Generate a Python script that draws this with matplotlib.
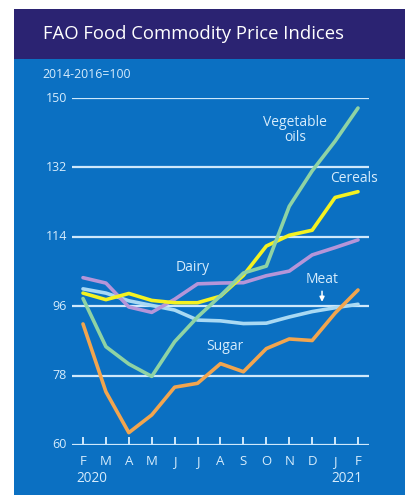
import matplotlib
matplotlib.use("Agg")
import matplotlib.pyplot as plt
from matplotlib.patches import Rectangle

months = ["F", "M", "A", "M", "J", "J", "A", "S", "O", "N", "D", "J", "F"]
years = ["2020", "2021"]
yticks = [60, 78, 96, 114, 132, 150]

cereals = [99.4, 97.7, 99.3, 97.5, 96.9, 96.9, 98.6, 104.0, 111.6, 114.4, 115.7, 124.2, 125.7]
veg_oils = [98.0, 85.5, 81.0, 77.8, 86.8, 93.2, 98.7, 104.6, 106.4, 121.9, 131.1, 138.8, 147.4]
dairy = [103.4, 102.0, 95.8, 94.4, 97.8, 101.8, 102.0, 102.1, 103.9, 105.1, 109.3, 111.2, 113.2]
meat = [100.5, 99.4, 97.4, 96.2, 95.0, 92.4, 92.2, 91.5, 91.6, 93.2, 94.6, 95.6, 96.5]
sugar = [91.4, 73.8, 63.2, 67.8, 75.0, 76.0, 81.1, 79.0, 85.0, 87.5, 87.1, 94.2, 100.2]

W, H = 406, 495
fig = plt.figure(figsize=(W / 100, H / 100), dpi=100, facecolor="white")
plt.rcParams['font.family'] = ['Open Sans', 'DejaVu Sans']

def fx(px):
    return px / W

def fy(py):
    return 1 - py / H

navy = "#2b2372"
blue = "#0b70c2"
grid_c = "#cfe8fb"
text_c = "#d6ecfc"

bg = fig.add_axes([0, 0, 1, 1], zorder=-10)
bg.set_xlim(0, W)
bg.set_ylim(H, 0)
bg.axis("off")
bg.add_patch(Rectangle((14, 59), W - 14, H - 59, facecolor=blue, edgecolor="none"))
bg.add_patch(Rectangle((14, 9), W - 14, 50, facecolor=navy, edgecolor="none"))

fig.text(fx(43), fy(34), "FAO Food Commodity Price Indices", color="white",
         fontsize=13.3, va="center", ha="left")
fig.text(fx(42), fy(75), "2014-2016=100", color=text_c, fontsize=8.8, va="center", ha="left")

ax = fig.add_axes([fx(72), fy(445), fx(369) - fx(72), fy(98) - fy(445)])
ax.set_facecolor("none")
ax.set_xlim(-0.48, 12.48)
ax.set_ylim(60, 150)
for s in ax.spines.values():
    s.set_visible(False)
ax.set_xticks([])
ax.set_yticks([])

x = list(range(len(months)))
for v in yticks:
    ax.axhline(v, color=grid_c, lw=1.6, zorder=1)
for v in yticks:
    ax.text(-0.7, v, str(v), color=text_c, fontsize=9, ha="right", va="center")
# upward ticks on baseline
for i in x:
    ax.plot([i, i], [60, 62.0], color=grid_c, lw=1.4, zorder=1, solid_capstyle="butt")
for i, m in enumerate(months):
    ax.text(i, 55.8, m, color=text_c, fontsize=9.5, ha="center", va="center")
ax.text(-0.28, 51.3, years[0], color=text_c, fontsize=9.8, ha="left", va="center")
ax.text(12.18, 51.3, years[1], color=text_c, fontsize=9.8, ha="right", va="center")

lw = 2.6
ax.plot(x, meat, color="#a9d9f3", lw=lw, zorder=3, clip_on=False, solid_capstyle="round")
ax.plot(x, dairy, color="#b595d9", lw=lw, zorder=3, clip_on=False, solid_capstyle="round")
ax.plot(x, sugar, color="#f2a54e", lw=lw, zorder=3, clip_on=False, solid_capstyle="round")
ax.plot(x, cereals, color="#f4f221", lw=lw, zorder=4, clip_on=False, solid_capstyle="round")
ax.plot(x, veg_oils, color="#8fd3a4", lw=lw, zorder=5, clip_on=False, solid_capstyle="round")

lab = dict(color=text_c, fontsize=10, ha="center", va="center")
ax.text(9.25, 143.6, "Vegetable", **lab)
ax.text(9.25, 139.7, "oils", **lab)
ax.text(11.82, 129.0, "Cereals", **lab)
ax.text(4.8, 106.0, "Dairy", **lab)
ax.text(10.43, 102.8, "Meat", **lab)
ax.text(6.2, 85.5, "Sugar", **lab)
ax.annotate("", xy=(10.43, 96.4), xytext=(10.43, 100.6),
            arrowprops=dict(arrowstyle="-|>", color="white", lw=1.1, mutation_scale=7))

fig.savefig("out.png", dpi=100, facecolor="white")
